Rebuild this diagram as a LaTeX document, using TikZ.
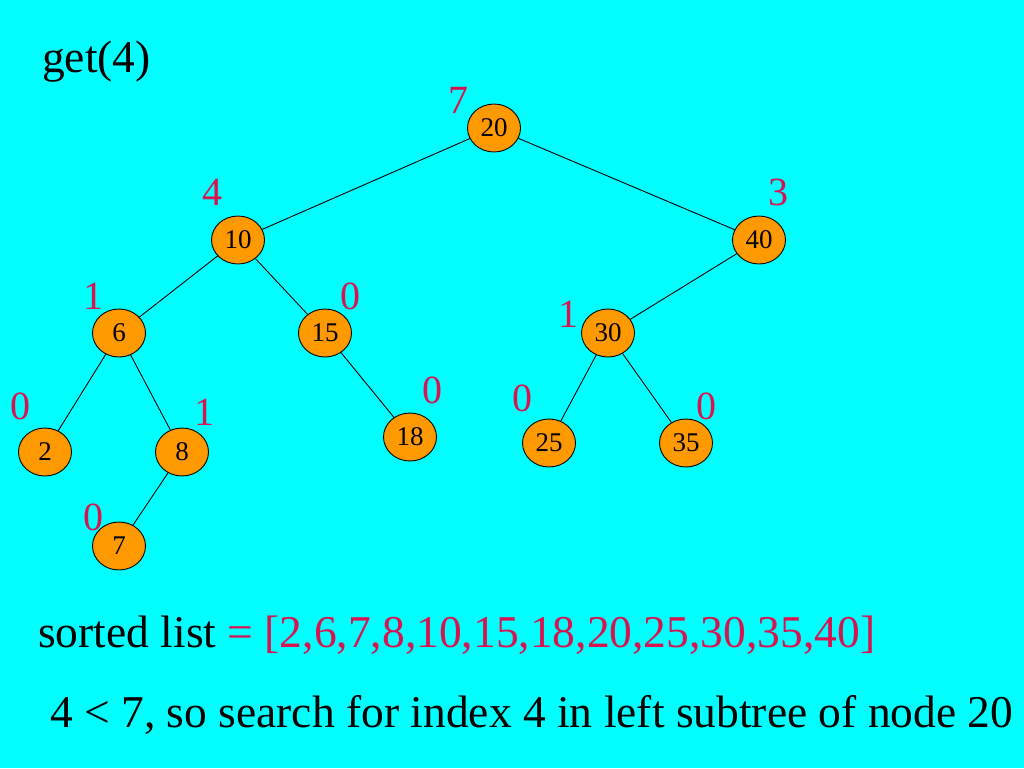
\documentclass[tikz,border=0pt]{standalone}
\usepackage{fontspec}
\setmainfont{Liberation Serif}
\usetikzlibrary{shapes.geometric}
\definecolor{bg}{RGB}{0,255,255}
\definecolor{nodefill}{RGB}{255,153,0}
\definecolor{lab}{RGB}{215,20,80}
\tikzset{
  tn/.style={ellipse, draw=black, fill=nodefill, line width=0.9pt, minimum width=53pt, minimum height=48pt, inner sep=0pt, font=\fontsize{27}{29}\selectfont},
  lb/.style={text=lab, font=\fontsize{40}{42}\selectfont, inner sep=0pt},
  ed/.style={draw=black, line width=0.9pt},
  big/.style={font=\fontsize{45.5}{48}\selectfont, inner sep=0pt}
}
\begin{document}
\begin{tikzpicture}[x=1pt,y=-1pt]
\fill[bg] (0,0) rectangle (1024,768);
\useasboundingbox (0,0) rectangle (1024,768);
\node[tn] (n20) at (494,128) {20};
\node[tn] (n10) at (238,240) {10};
\node[tn] (n40) at (759,240) {40};
\node[tn] (n6) at (119,333) {6};
\node[tn] (n15) at (325,333) {15};
\node[tn] (n30) at (608,333) {30};
\node[tn] (n2) at (45,452) {2};
\node[tn] (n8) at (182,452) {8};
\node[tn] (n18) at (410,437) {18};
\node[tn] (n25) at (549,443) {25};
\node[tn] (n35) at (686,443) {35};
\node[tn] (n7) at (119,546) {7};
\draw[ed] (n20) -- (n10);
\draw[ed] (n20) -- (n40);
\draw[ed] (n10) -- (n6);
\draw[ed] (n10) -- (n15);
\draw[ed] (n40) -- (n30);
\draw[ed] (n6) -- (n2);
\draw[ed] (n6) -- (n8);
\draw[ed] (n15) -- (n18);
\draw[ed] (n30) -- (n25);
\draw[ed] (n30) -- (n35);
\draw[ed] (n8) -- (n7);
\node[lb] (l20) at (458,100) {7};
\node[lb] (l10) at (212,192) {4};
\node[lb] (l40) at (778,192) {3};
\node[lb] (l6) at (93,296) {1};
\node[lb] (l15) at (350,296) {0};
\node[lb] (l30) at (568,314) {1};
\node[lb] (l2) at (20,406) {0};
\node[lb] (l8) at (204,412) {1};
\node[lb] (l18) at (432,390) {0};
\node[lb] (l25) at (522,398) {0};
\node[lb] (l35) at (706,406) {0};
\node[lb] (l7) at (93,517) {0};
\node[big, anchor=base west] (title) at (42,72) {get(4)};
\node[big, anchor=base west] (sorted) at (38,647) {sorted list \textcolor{lab}{= [2,6,7,8,10,15,18,20,25,30,35,40]}};
\node[big, anchor=base west] (expl) at (50,727) {4 < 7, so search for index 4 in left subtree of node 20};
\end{tikzpicture}
\end{document}
